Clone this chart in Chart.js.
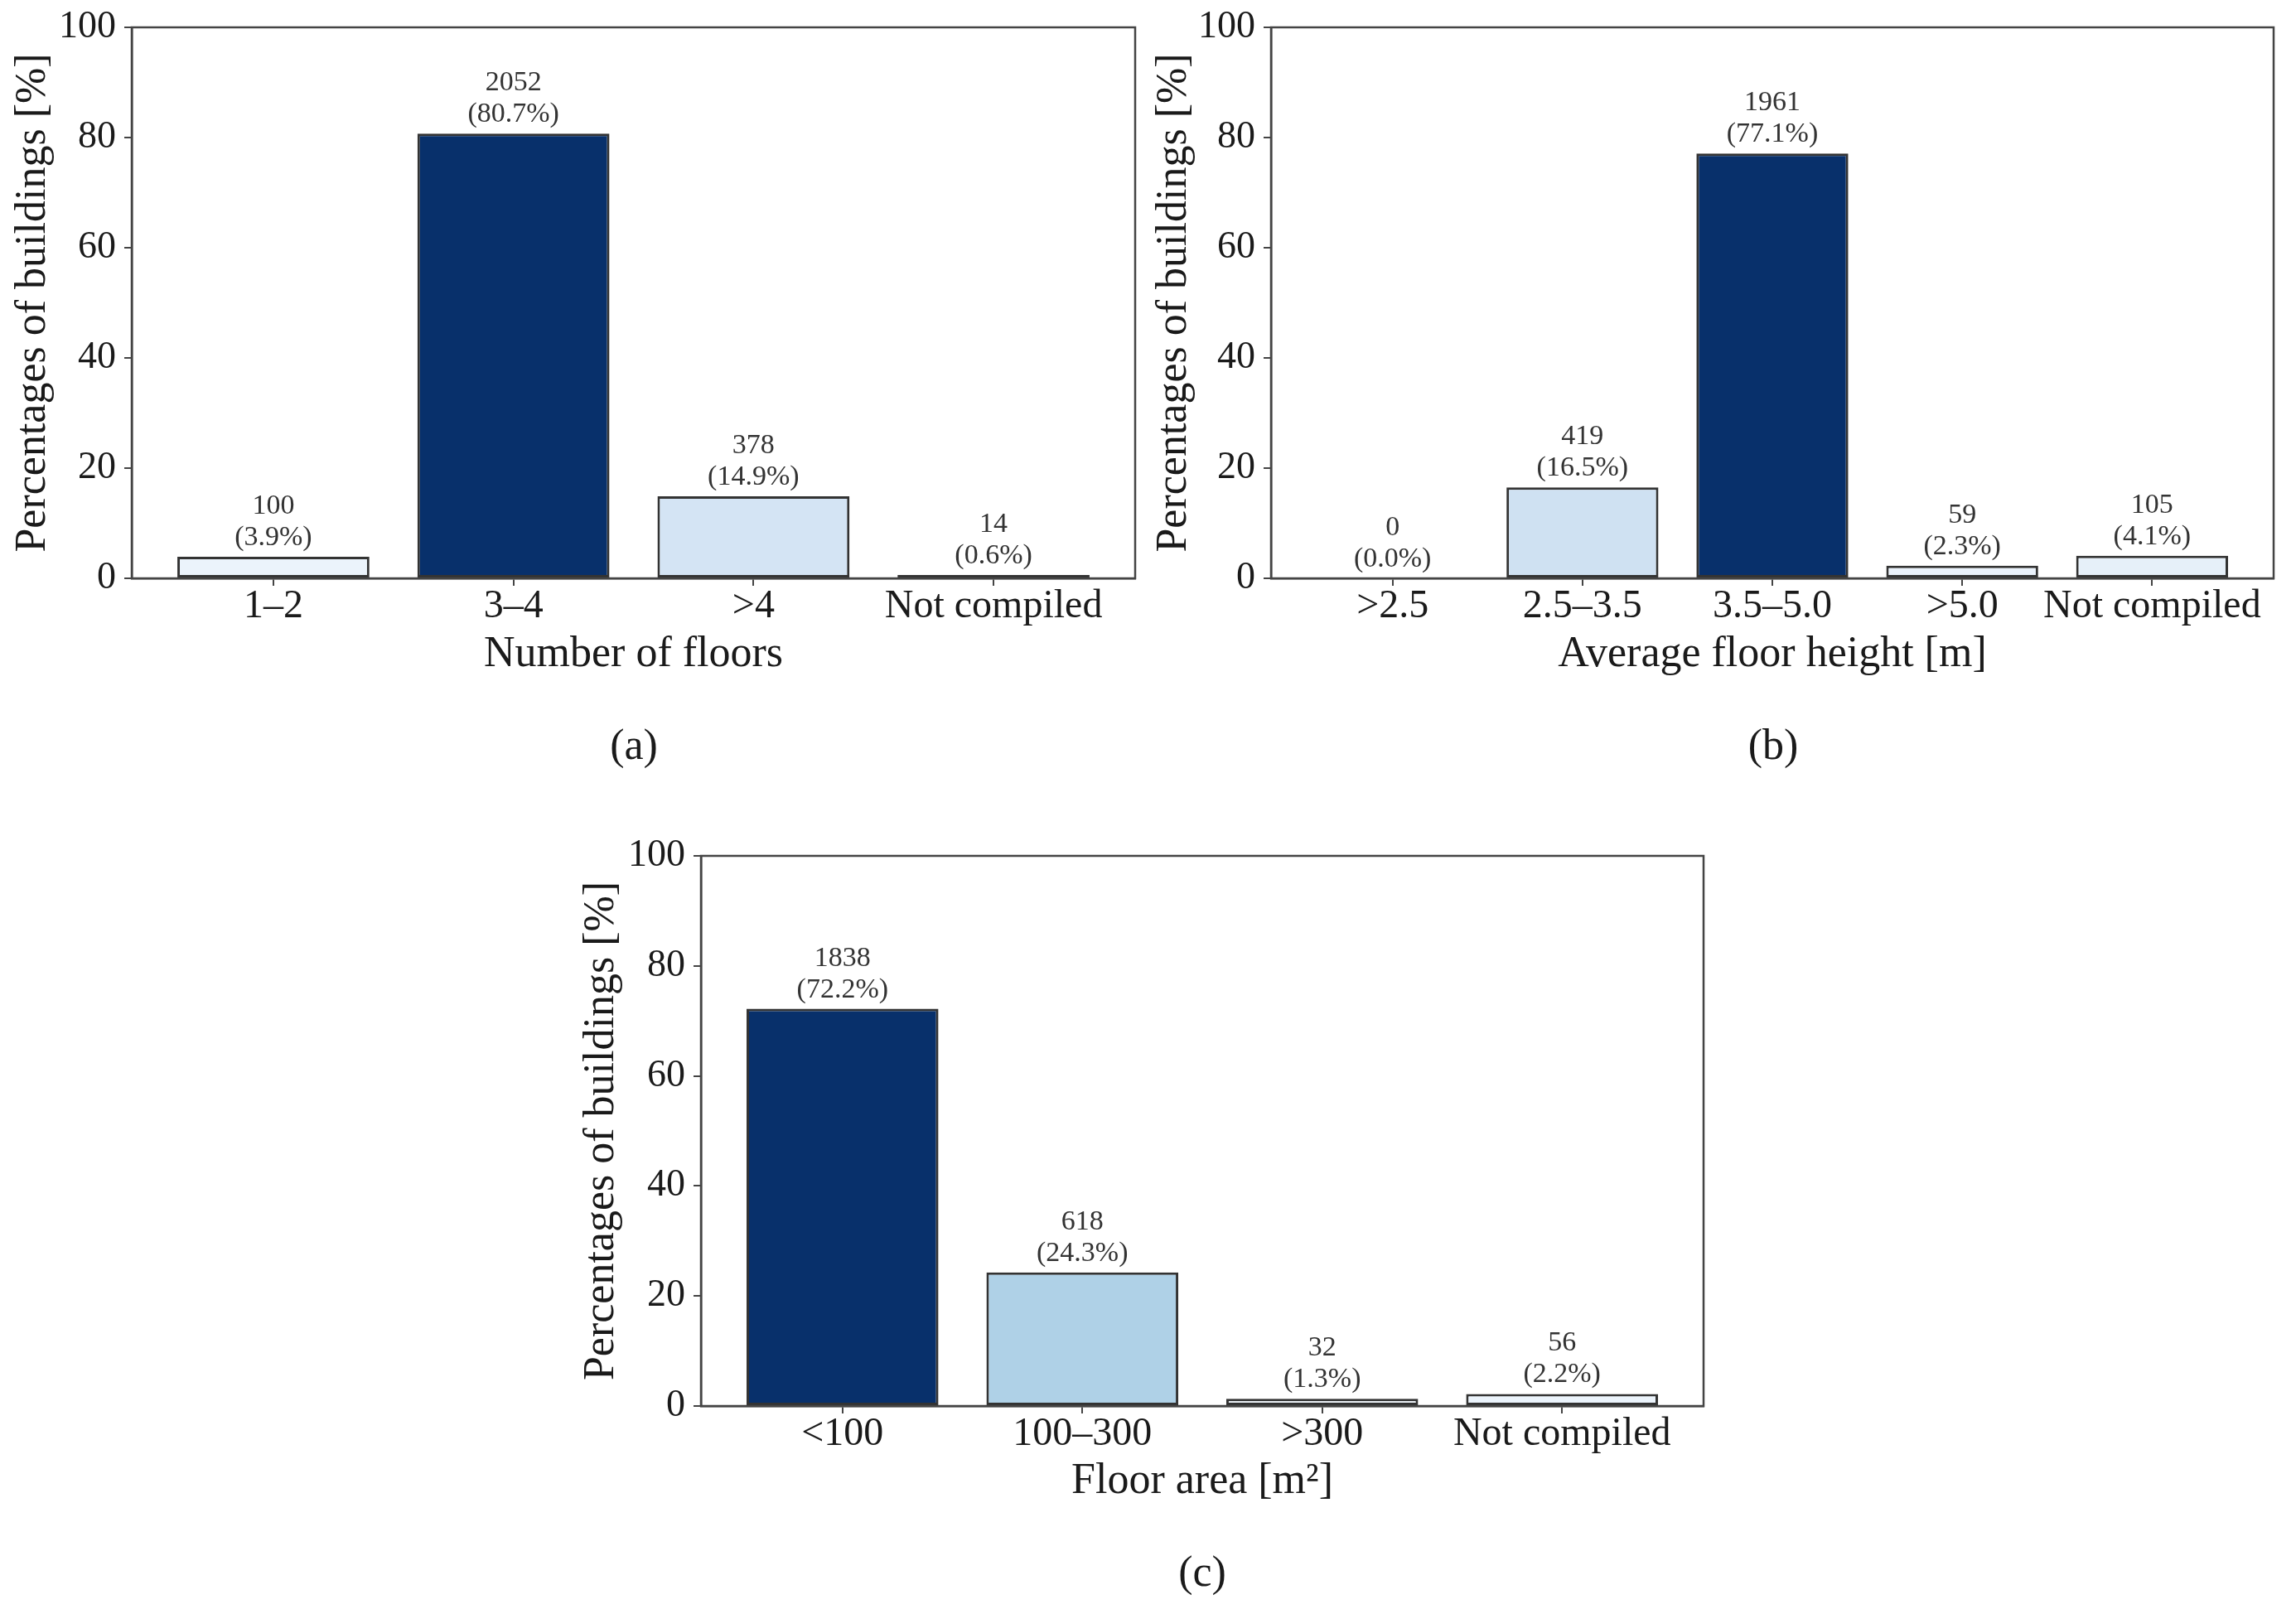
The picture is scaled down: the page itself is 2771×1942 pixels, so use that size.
<!DOCTYPE html>
<html>
<head>
<meta charset="utf-8">
<script src="https://cdn.jsdelivr.net/npm/chart.js@4.4.1/dist/chart.umd.min.js"></script>
<style>
    body { margin: 0; background: #fff; }
    #page { position: relative; width: 2771px; height: 1942px; background: #fff; }
    canvas { position: absolute; }
    .panel-label {
        position: absolute;
        font-family: "Liberation Serif", serif;
        font-size: 52px;
        color: #1a1a1a;
        transform: translate(-50%, -50%);
        white-space: nowrap;
    }
</style>
</head>
<body>
<div id="page">
    <canvas id="chartA" width="1385" height="820" style="left:0px;top:0px"></canvas>
    <canvas id="chartB" width="1386" height="820" style="left:1385px;top:0px"></canvas>
    <canvas id="chartC" width="1400" height="820" style="left:700px;top:1000px"></canvas>
    <div class="panel-label" style="left:765px;top:898px">(a)</div>
    <div class="panel-label" style="left:2140px;top:898px">(b)</div>
    <div class="panel-label" style="left:1451px;top:1896px">(c)</div>
</div>
<script>
// (a) number of floors
const floorCats = ['1–2', '3–4', '>4', 'Not compiled'];
const floorCounts = [100, 2052, 378, 14];
const floorPct = [3.9, 80.7, 14.9, 0.6];

// (b) average floor height
const heightCats = ['>2.5', '2.5–3.5', '3.5–5.0', '>5.0', 'Not compiled'];
const heightCounts = [0, 419, 1961, 59, 105];
const heightPct = [0.0, 16.5, 77.1, 2.3, 4.1];

// (c) floor area
const areaCats = ['<100', '100–300', '>300', 'Not compiled'];
const areaCounts = [1838, 618, 32, 56];
const areaPct = [72.2, 24.3, 1.3, 2.2];

const yTicks = [0, 20, 40, 60, 80, 100];

// fill colours (Blues-like)
const floorColors = ['#ebf3fb', '#08306b', '#d4e4f4', '#f5f9fe'];
const heightColors = ['#f7fbff', '#cfe1f2', '#08306b', '#eaf2fb', '#e6f0f9'];
const areaColors = ['#08306b', '#afd1e7', '#f0f6fc', '#ebf3fb'];

const FONT = '"Liberation Serif", "Times New Roman", serif';
const AXIS_COLOR = '#444';
const TEXT_COLOR = '#1a1a1a';

// box around the plot area (matplotlib spines)
const frame = {
    id: 'frame',
    afterDraw(chart) {
        const { ctx, chartArea } = chart;
        ctx.save();
        ctx.strokeStyle = AXIS_COLOR;
        ctx.lineWidth = 2.5;
        ctx.strokeRect(chartArea.left, chartArea.top,
            chartArea.right - chartArea.left, chartArea.bottom - chartArea.top);
        ctx.restore();
    }
};

// count + percentage above each bar
const barLabels = {
    id: 'barLabels',
    afterDatasetsDraw(chart, args, opts) {
        const ctx = chart.ctx;
        const meta = chart.getDatasetMeta(0);
        ctx.save();
        ctx.font = '34px ' + FONT;
        ctx.fillStyle = '#333';
        ctx.textAlign = 'center';
        ctx.textBaseline = 'middle';
        meta.data.forEach((bar, i) => {
            ctx.fillText(String(opts.counts[i]), bar.x, bar.y - 61);
            ctx.fillText('(' + opts.pcts[i].toFixed(1) + '%)', bar.x, bar.y - 23);
        });
        ctx.restore();
    }
};

const makeChart = (id, cats, counts, pcts, colors, xTitle, cfg) => {
    const n = cats.length;
    // matplotlib default x margins around bars of width 0.8
    const pad = 0.4 + 0.05 * (n - 1 + 0.8);

    new Chart(document.getElementById(id), {
        type: 'bar',
        data: {
            datasets: [{
                data: pcts.map((v, i) => ({ x: i, y: v })),
                backgroundColor: colors,
                borderColor: '#333',
                borderWidth: 3,
                borderSkipped: false,
                categoryPercentage: 1.0,
                barPercentage: 0.8
            }]
        },
        options: {
            responsive: false,
            animation: false,
            layout: { padding: { top: 32, right: cfg.right, left: 0, bottom: 0 } },
            plugins: {
                legend: { display: false },
                tooltip: { enabled: false },
                barLabels: { counts: counts, pcts: pcts }
            },
            scales: {
                x: {
                    type: 'linear',
                    offset: false,
                    min: -pad,
                    max: n - 1 + pad,
                    afterBuildTicks: (axis) => {
                        axis.ticks = cats.map((c, i) => ({ value: i }));
                    },
                    afterFit: (axis) => { axis.height = cfg.xHeight; },
                    ticks: {
                        callback: (v) => cats[v],
                        font: { family: FONT, size: 48, lineHeight: 1 },
                        color: TEXT_COLOR,
                        padding: 1,
                        maxRotation: 0,
                        autoSkip: false
                    },
                    grid: { offset: false, drawOnChartArea: false, drawTicks: true, tickLength: 9, color: AXIS_COLOR, lineWidth: 2 },
                    border: { display: true, color: AXIS_COLOR, width: 2.5 },
                    title: {
                        display: true,
                        text: xTitle,
                        font: { family: FONT, size: 52, lineHeight: 1 },
                        color: TEXT_COLOR,
                        padding: { top: 0, bottom: cfg.xTitlePad }
                    }
                },
                y: {
                    min: 0,
                    max: 100,
                    afterBuildTicks: (axis) => {
                        axis.ticks = yTicks.map((v) => ({ value: v }));
                    },
                    afterFit: (axis) => { axis.width = cfg.yWidth; },
                    ticks: {
                        font: { family: FONT, size: 46, lineHeight: 1 },
                        color: TEXT_COLOR,
                        padding: 10
                    },
                    grid: { drawOnChartArea: false, drawTicks: true, tickLength: 9, color: AXIS_COLOR, lineWidth: 2 },
                    border: { display: true, color: AXIS_COLOR, width: 2.5 },
                    title: {
                        display: true,
                        text: 'Percentages of buildings [%]',
                        font: { family: FONT, size: 52, lineHeight: 1 },
                        color: TEXT_COLOR,
                        padding: { top: cfg.yTitlePad, bottom: 0 }
                    }
                }
            }
        },
        plugins: [frame, barLabels]
    });
};

makeChart('chartA', floorCats, floorCounts, floorPct, floorColors, 'Number of floors',
    { right: 15, yWidth: 159, xHeight: 122, xTitlePad: 4, yTitlePad: 14 });
makeChart('chartB', heightCats, heightCounts, heightPct, heightColors, 'Average floor height [m]',
    { right: 27, yWidth: 149, xHeight: 122, xTitlePad: 4, yTitlePad: 6 });
makeChart('chartC', areaCats, areaCounts, areaPct, areaColors, 'Floor area [m²]',
    { right: 44, yWidth: 146, xHeight: 123, xTitlePad: 6, yTitlePad: 0 });
</script>
</body>
</html>
